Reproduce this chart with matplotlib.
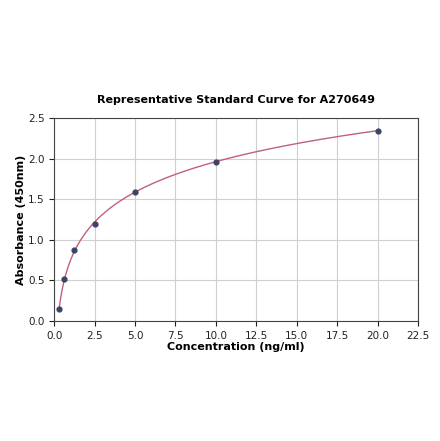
import matplotlib
matplotlib.use("Agg")
import matplotlib.pyplot as plt
import numpy as np

TITLE = "Representative Standard Curve for A270649"
X_LABEL = "Concentration (ng/ml)"
Y_LABEL = "Absorbance (450nm)"

conc = [0.3125, 0.625, 1.25, 2.5, 5.0, 10.0, 20.0]
absorbance = [0.148, 0.515, 0.877, 1.19, 1.594, 1.965, 2.348]


def four_pl(x, a, b, c, d):
    return d + (a - d) / (1.0 + (x / c) ** b)


def fit_four_pl(x, y, p0, n_iter=500):
    # small Levenberg-Marquardt, no scipy here
    p = np.array(p0, dtype=float)
    lam = 1e-2
    def resid(q):
        return y - four_pl(x, *q)
    r = resid(p)
    cost = r @ r
    for _ in range(n_iter):
        J = np.empty((len(x), len(p)))
        for i in range(len(p)):
            dp = np.zeros_like(p)
            dp[i] = 1e-6 * max(abs(p[i]), 1e-3)
            J[:, i] = (four_pl(x, *(p + dp)) - four_pl(x, *p)) / dp[i]
        A = J.T @ J
        g = J.T @ r
        step = np.linalg.solve(A + lam * np.diag(np.diag(A)), g)
        q = p + step
        if q[2] <= 0:
            lam *= 10
            continue
        rq = resid(q)
        cq = rq @ rq
        if cq < cost:
            p, r, cost = q, rq, cq
            lam /= 3
        else:
            lam *= 5
    return p


def main() -> None:
    x = np.array(conc)
    y = np.array(absorbance)
    params = fit_four_pl(x, y, [-0.5, 0.7, 5.0, 3.0])
    xs = np.linspace(x.min(), x.max(), 400)

    fig = plt.figure(figsize=(4.4, 4.41), dpi=100)
    ax = fig.add_axes([0.123, 0.272, 0.827, 0.46])
    ax.plot(xs, four_pl(xs, *params), color="#c0607f", lw=1.0, zorder=2)
    ax.scatter(x, y, s=12, color="#3a4466", zorder=3)

    ax.set_xlim(0, 22.5)
    ax.set_ylim(0, 2.5)
    ax.set_xticks(np.arange(0, 22.6, 2.5))
    ax.set_yticks(np.arange(0, 2.51, 0.5))
    ax.grid(True, color="#d0d0d0", lw=0.8)
    ax.set_axisbelow(True)
    ax.tick_params(labelsize=7.5, colors="#222222")
    for s in ax.spines.values():
        s.set_color("#444444")
    ax.set_title(TITLE, fontsize=8, fontweight="bold", pad=11)
    ax.set_xlabel(X_LABEL, fontsize=8, fontweight="bold", labelpad=1)
    ax.set_ylabel(Y_LABEL, fontsize=8, fontweight="bold", labelpad=1)

    fig.savefig("out.png", dpi=100)


if __name__ == "__main__":
    main()
